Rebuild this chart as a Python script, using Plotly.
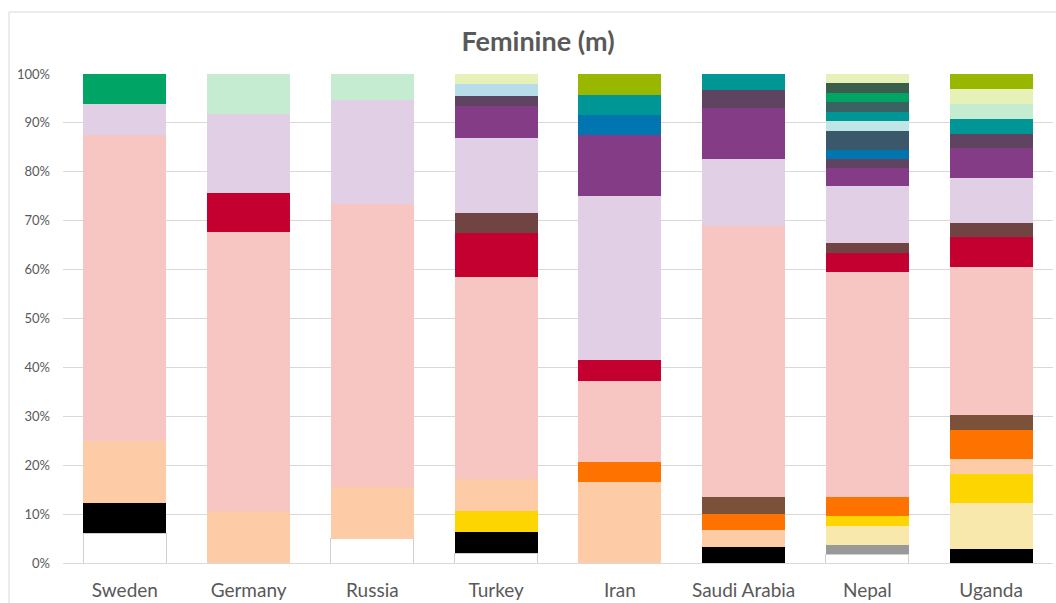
import plotly.graph_objects as go

countries = ["Sweden", "Germany", "Russia", "Turkey", "Iran", "Saudi Arabia", "Nepal", "Uganda"]

# Segment shares (%) per country, listed from the bottom of each stack upwards
white_seg      = [6.1, 0, 5.0, 2.0, 0, 0, 1.8, 0]
gray_seg       = [0, 0, 0, 0, 0, 0, 1.9, 0]
black_seg      = [6.2, 0, 0, 4.3, 0, 3.3, 0, 2.8]
pale_yellow    = [0, 0, 0, 0, 0, 0, 3.9, 9.4]
yellow_seg     = [0, 0, 0, 4.4, 0, 0, 2.0, 5.9]
peach_seg      = [12.7, 10.6, 10.6, 6.5, 16.6, 3.5, 0, 3.1]
orange_seg     = [0, 0, 0, 0, 4.1, 3.3, 3.8, 6.1]
brown_seg      = [0, 0, 0, 0, 0, 3.5, 0, 2.9]
pink_seg       = [62.5, 57.0, 57.9, 41.3, 16.6, 55.3, 46.1, 30.3]
red_seg        = [0, 8.1, 0, 8.9, 4.3, 0, 3.9, 6.1]
maroon_seg     = [0, 0, 0, 4.2, 0, 0, 2.0, 3.0]
lavender_seg   = [6.4, 16.1, 21.1, 15.4, 33.4, 13.8, 11.6, 9.1]
purple_seg     = [0, 0, 0, 6.5, 12.5, 10.4, 3.8, 6.1]
plum_seg       = [0, 0, 0, 2.1, 0, 3.6, 1.9, 3.0]
blue_seg       = [0, 0, 0, 0, 4.1, 0, 1.8, 0]
slate_seg      = [0, 0, 0, 0, 0, 0, 3.9, 0]
light_cyan     = [0, 0, 0, 0, 0, 0, 2.0, 0]
teal_seg       = [0, 0, 0, 0, 4.2, 3.3, 1.9, 3.0]
dark_teal      = [0, 0, 0, 0, 0, 0, 1.9, 0]
green_seg      = [6.1, 0, 0, 0, 0, 0, 2.0, 0]
dark_green     = [0, 0, 0, 0, 0, 0, 2.0, 0]
mint_seg       = [0, 8.2, 5.4, 0, 0, 0, 0, 3.1]
light_blue     = [0, 0, 0, 2.4, 0, 0, 0, 0]
lime_pale      = [0, 0, 0, 2.0, 0, 0, 1.8, 3.0]
olive_seg      = [0, 0, 0, 0, 4.2, 0, 0, 3.1]

series = [
    (white_seg, "#ffffff"),
    (gray_seg, "#999999"),
    (black_seg, "#000000"),
    (pale_yellow, "#f9e8ab"),
    (yellow_seg, "#fdd500"),
    (peach_seg, "#fdcca6"),
    (orange_seg, "#fe7200"),
    (brown_seg, "#7c5139"),
    (pink_seg, "#f7c6c3"),
    (red_seg, "#c40030"),
    (maroon_seg, "#714444"),
    (lavender_seg, "#e1d0e5"),
    (purple_seg, "#843c86"),
    (plum_seg, "#5e4460"),
    (blue_seg, "#0075b0"),
    (slate_seg, "#3a586a"),
    (light_cyan, "#bfe6e4"),
    (teal_seg, "#009695"),
    (dark_teal, "#3a6262"),
    (green_seg, "#00a565"),
    (dark_green, "#3b5e4c"),
    (mint_seg, "#c5ecd0"),
    (light_blue, "#b7dcea"),
    (lime_pale, "#e6f1b7"),
    (olive_seg, "#9ab700"),
]

fig = go.Figure()
for vals, color in series:
    ys = [v if v else None for v in vals]
    outlined = color == "#ffffff"
    fig.add_trace(go.Bar(
        x=countries, y=ys,
        marker=dict(color=color,
                    line=dict(color="#d0d0d0" if outlined else color,
                              width=1 if outlined else 0)),
        showlegend=False, hoverinfo="x+y",
    ))

W, H = 1056, 603
ml, mr, mt, mb = 63, 3, 74, 40
pw, ph = W - ml - mr, H - mt - mb

def px_to_paper_x(px):
    return (px - ml) / pw

def px_to_paper_y(py):
    return (H - mb - py) / ph

fig.update_layout(
    width=W, height=H,
    barmode="stack", bargap=0.33,
    plot_bgcolor="white", paper_bgcolor="white",
    margin=dict(l=ml, r=mr, t=mt, b=mb),
    font=dict(family="Lato, Open Sans, sans-serif", color="#595959"),
    title=dict(text="<b>Feminine (m)</b>", x=538 / W, xanchor="center",
               y=1 - 42 / H, yanchor="middle",
               font=dict(size=27, color="#595959")),
    xaxis=dict(showline=True, linecolor="#d9d9d9", linewidth=1,
               ticks="", tickfont=dict(size=19, color="#595959"),
               ticklabelstandoff=10),
    yaxis=dict(range=[0, 100], dtick=10, ticksuffix="%",
               showgrid=True, gridcolor="#d9d9d9", gridwidth=1,
               zeroline=False, showline=False,
               tickfont=dict(size=13, color="#595959"),
               ticklabelstandoff=12),
    shapes=[dict(type="rect", xref="paper", yref="paper",
                 x0=px_to_paper_x(9), x1=px_to_paper_x(1080),
                 y0=px_to_paper_y(620), y1=px_to_paper_y(12),
                 line=dict(color="#d9d9d9", width=1), fillcolor="rgba(0,0,0,0)",
                 layer="below")],
)

fig.write_html("out.html")
